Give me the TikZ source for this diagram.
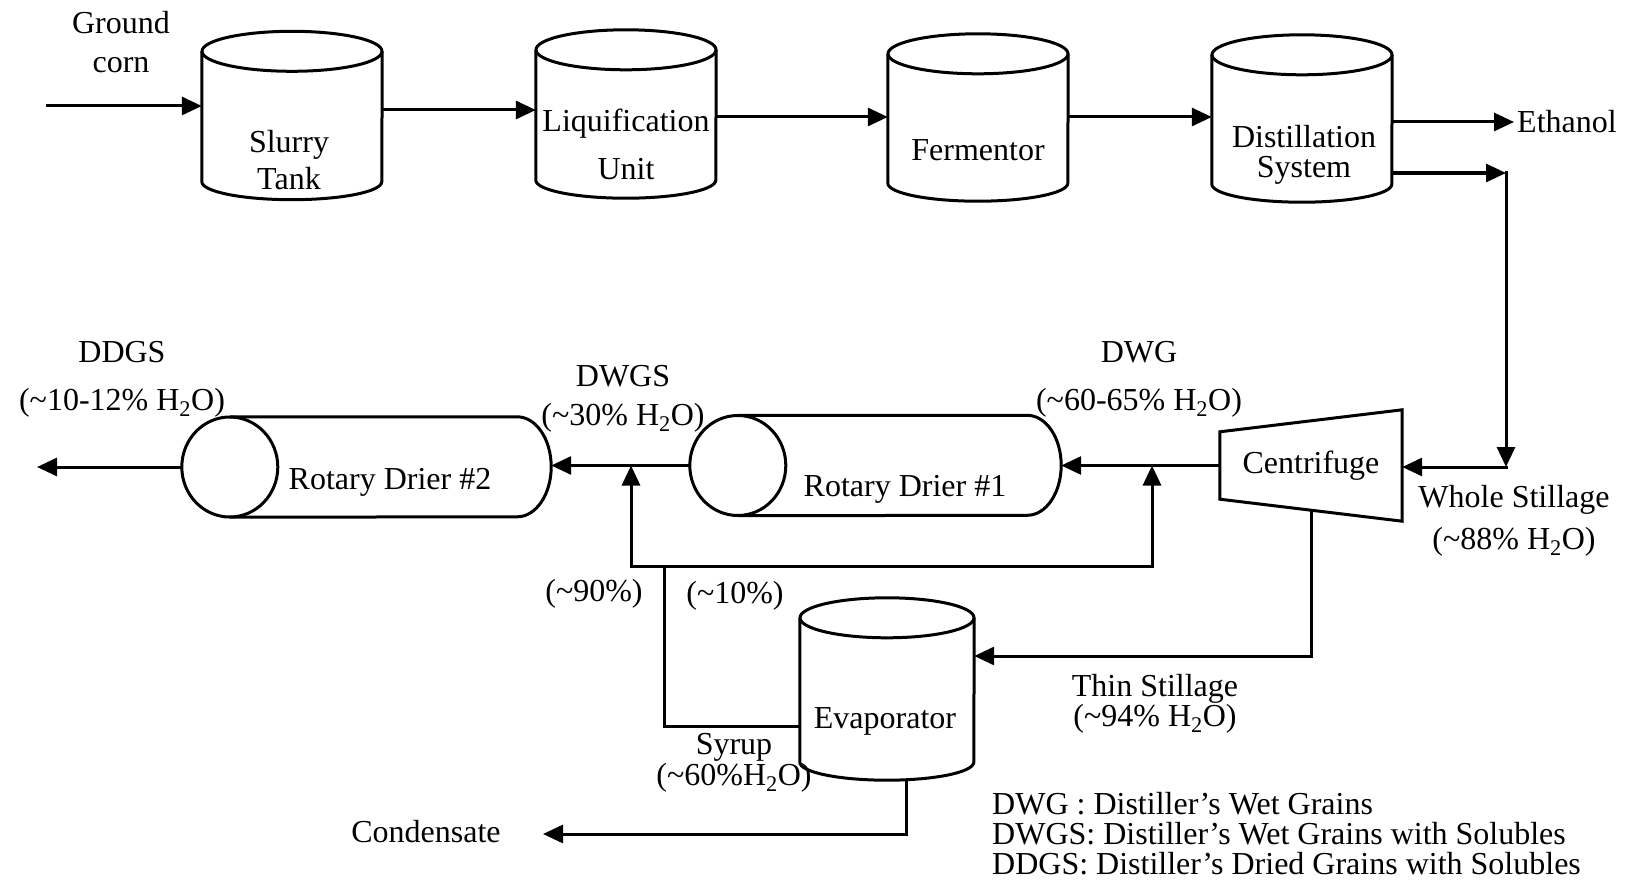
\documentclass[tikz,border=0pt]{standalone}
\usepackage{fontspec}
\setmainfont{Liberation Serif}
\usetikzlibrary{arrows.meta, calc}

\newcommand\fs{\fontsize{32}{33}\selectfont}

% upright tank round a named node: #1 node, #2 half width
\newcommand\tankbody[2]{%
  \draw[unit] ([yshift=-20pt]#1.north) ellipse[x radius=#2, y radius=20pt];
  \draw[unit] ([yshift=-20pt]#1.north west) -- ([yshift=18pt]#1.south west)
    arc[start angle=180, end angle=360, x radius=#2, y radius=18pt]
    -- ([yshift=-20pt]#1.north east);
}
% lying drum of a rotary drier round a named node
\newcommand\drierbody[1]{%
  \draw[unit] ([xshift=48pt]#1.west) ellipse[x radius=48pt, y radius=50pt];
  \draw[unit] ([xshift=48pt]#1.north west) -- ([xshift=-34pt]#1.north east)
    arc[start angle=90, end angle=-90, x radius=34pt, y radius=50pt]
    -- ([xshift=48pt]#1.south west);
}

\begin{document}
\begin{tikzpicture}[x=1pt, y=-1pt,
    every node/.style={font=\fs, inner sep=1pt},
    unit/.style={line width=3pt},
    pipe/.style={line width=3pt, line cap=rect},
    flow/.style={pipe, -{Triangle[length=20pt, width=18pt]}},
    tank/.style={minimum width=180pt, minimum height=168pt, inner sep=0pt},
    drier/.style={minimum height=100pt, inner sep=0pt}
  ]
  \useasboundingbox (0,0) rectangle (1628,880);

  % tanks along the top
  \node[tank, label={[xshift=-3pt, yshift=-45pt, align=center]center:Slurry\\[4pt]Tank}] (slurry) at (292,115.5) {};
  \node[tank, label={[yshift=-30pt, align=center]center:Liquification\\[15pt]Unit}] (liq) at (626,114) {};
  \node[tank, minimum height=167pt, label={[yshift=-33pt]center:Fermentor}] (ferm) at (978,117.5) {};
  \node[tank, minimum height=167pt, label={[xshift=2pt, yshift=-36.5pt, align=center]center:Distillation\\[-3pt]System}] (dist) at (1302,118.5) {};
  \node[tank, minimum width=174pt, minimum height=182pt, label={[xshift=-2pt, yshift=-32pt]center:Evaporator}] (evap) at (887,689) {};
  \foreach \t in {slurry, liq, ferm, dist} {\tankbody{\t}{90pt}}
  \tankbody{evap}{87pt}

  % driers
  \node[drier, minimum width=369pt, label={[xshift=23.5pt, yshift=-15pt]center:Rotary Drier \#2}] (drier2) at (366.5,467) {};
  \node[drier, minimum width=371pt, label={[xshift=29.5pt, yshift=-23.5pt]center:Rotary Drier \#1}] (drier1) at (875.5,465.5) {};
  \drierbody{drier2}
  \drierbody{drier1}

  % centrifuge
  \node[minimum width=182pt, minimum height=111pt, inner sep=0pt] (cent) at (1311,465.5) {Centrifuge};
  \draw[unit] ([yshift=-22pt]cent.north west) -- (cent.north east) -- (cent.south east)
    -- ([yshift=22pt]cent.south west) -- cycle;

  % stream labels
  \node[align=center] (corn) at (121,42.5) {Ground\\[6pt]corn};
  \node[anchor=west, inner xsep=3pt] (ethanol) at (1514,122) {Ethanol};
  \node[align=center] (ddgslab) at (122,379) {DDGS\\[15pt](\textasciitilde 10-12\% H\textsubscript{2}O)};
  \node[align=center] (dwgslab) at (623,398.5) {DWGS\\[6pt](\textasciitilde 30\% H\textsubscript{2}O)};
  \node[align=center] (dwglab) at (1139,379) {DWG\\[15pt](\textasciitilde 60-65\% H\textsubscript{2}O)};
  \node[align=center] (wslab) at (1514,521) {Whole Stillage\\[9pt](\textasciitilde 88\% H\textsubscript{2}O)};
  \node[align=center] (tslab) at (1155,704) {Thin Stillage\\[-3pt](\textasciitilde 94\% H\textsubscript{2}O)};
  \node[align=center] (syrup) at (734,762.5) {Syrup\\[-2pt](\textasciitilde 60\%H\textsubscript{2}O)};
  \node (split90) at (594,594) {(\textasciitilde 90\%)};
  \node (split10) at (735,596) {(\textasciitilde 10\%)};
  \node (condensate) at (426,832) {Condensate};
  \node[align=left, anchor=west, font=\fontsize{32}{30}\selectfont] (legend) at (991,834)
    {DWG : Distiller's Wet Grains\\DWGS: Distiller's Wet Grains with Solubles\\DDGS: Distiller's Dried Grains with Solubles};

  % levels and bends
  \coordinate (feed) at (47,106);
  \coordinate (t1) at (0,110);
  \coordinate (t2) at (0,117);
  \coordinate (ws1) at (1506,173);
  \coordinate (ws2) at (1506,467);
  \coordinate (ddgs) at (37,467);
  \coordinate (j1) at (631,566);
  \coordinate (j2) at (1152,566);
  \coordinate (tap) at (664,566);
  \coordinate (sy) at (664,726);
  \coordinate (ts) at (0,656);
  \coordinate (cb) at ($([yshift=22pt]cent.south west)!0.5!(cent.south east)$);
  \coordinate (cd) at (906,834);
  \coordinate (cdtip) at (543,834);

  % main line
  \draw[flow] (feed) -- (feed -| slurry.west);
  \draw[flow] (slurry.east |- t1) -- (liq.west |- t1);
  \draw[flow] (liq.east |- t2) -- (ferm.west |- t2);
  \draw[flow] (ferm.east |- t2) -- (dist.west |- t2);
  \draw[flow] (dist.east |- ethanol) -- (ethanol.west);

  % whole stillage to the centrifuge
  \draw[flow] (dist.east |- ws1) -- (ws1);
  \draw[flow] (ws1) -- (ws2);
  \draw[flow] (ws2) -- (ws2 -| cent.east);

  % grains through the driers
  \draw[flow] (cent.west) -- (cent.west -| drier1.east);
  \draw[flow] (drier1.west) -- (drier1.west -| drier2.east);
  \draw[flow] (drier2.west) -- (drier2.west -| ddgs);

  % syrup split back to the driers
  \draw[flow] (j1) -- (j1 |- drier1.west);
  \draw[flow] (j2) -- (j2 |- cent.west);
  \draw[pipe] (j1) -- (j2);
  \draw[pipe] (tap) -- (sy) -- (sy -| evap.west);

  % thin stillage and condensate
  \draw[flow] (cb) -- (cb |- ts) -- (ts -| evap.east);
  \draw[flow] (cd |- evap.south) -- (cd) -- (cdtip);
\end{tikzpicture}
\end{document}
